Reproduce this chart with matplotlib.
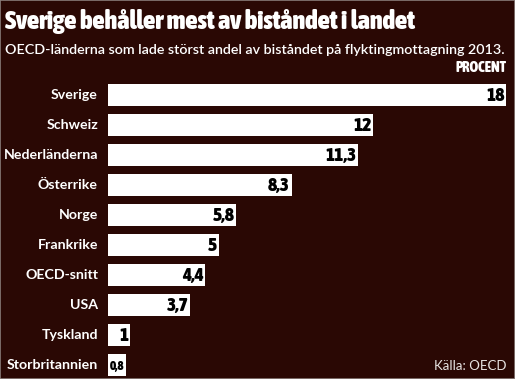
import matplotlib
matplotlib.use("Agg")
import matplotlib.pyplot as plt
from matplotlib import font_manager
from matplotlib.patches import Rectangle

countries = ["Sverige", "Schweiz", "Nederländerna", "Österrike", "Norge",
             "Frankrike", "OECD-snitt", "USA", "Tyskland", "Storbritannien"]
shares = [18, 12, 11.3, 8.3, 5.8, 5, 4.4, 3.7, 1, 0.8]
value_labels = ["18", "12", "11,3", "8,3", "5,8", "5", "4,4", "3,7", "1", "0,8"]

title = "Sverige behåller mest av biståndet i landet"
subtitle = "OECD-länderna som lade störst andel av biståndet på flyktingmottagning 2013."
unit = "PROCENT"
source = "Källa: OECD"

BG = "#2a0804"
SANS = ["Lato", "DejaVu Sans"]


def is_bold(f):
    w = f.weight
    if isinstance(w, str):
        return w in ("bold", "heavy", "black", "extra bold", "semibold", "demibold")
    return w >= 600


# look for a bold condensed face for the headline/number font
narrow_bold = None
for f in font_manager.fontManager.ttflist:
    n = f.name
    if ("Condensed" in n or "Narrow" in n) and is_bold(f) and f.style == "normal":
        narrow_bold = f
        break

if narrow_bold is not None:
    HEAD = dict(fontproperties=font_manager.FontProperties(fname=narrow_bold.fname))
else:
    HEAD = dict(family="DejaVu Sans", fontweight="bold", fontstretch="condensed")

W, H = 515, 379
fig = plt.figure(figsize=(W / 100, H / 100), dpi=100, facecolor=BG)

# axes spans pixel columns 108..506, rows 80..380 (one bar slot = 30 px)
ax = fig.add_axes([108 / W, (H - 380) / H, (506 - 108) / W, 300 / H])
ax.set_facecolor(BG)
y = list(range(len(countries)))
ax.barh(y, shares, height=0.72, color="white", edgecolor="none")
ax.set_xlim(0, 18)
ax.set_ylim(len(countries) - 0.5, -0.5)
ax.axis("off")

px = 18 / (506 - 108)  # data units per pixel
vals = []
for yi, v, lab, name in zip(y, shares, value_labels, countries):
    tv = ax.text(v - 1.5 * px, yi + 0.04, lab, ha="right", va="center",
                 color="black", **HEAD)
    tv.set_fontsize(14)
    vals.append((tv, v))
    ax.text(-10 * px, yi, name, ha="right", va="center", fontsize=10.2,
            fontweight="bold", family=SANS, color="white")


def fx(p):
    return p / W


def fy(p):
    return (H - p) / H


t = fig.text(fx(5), fy(21), title, ha="left", va="center", color="white", **HEAD)
t.set_fontsize(22)
s = fig.text(fx(5), fy(50), subtitle, ha="left", va="center", fontsize=10,
             family=SANS, fontweight="semibold", color="white")
u = fig.text(fx(507), fy(68), unit, ha="right", va="center", color="white", **HEAD)
u.set_fontsize(10.5)
fig.text(fx(506), fy(366), source, ha="right", va="center", fontsize=9.5,
         family=SANS, color="#e8e4e2")

# fit title and subtitle to the widths seen in the reference
fig.canvas.draw()
r = fig.canvas.get_renderer()
for txt, target in [(t, 410), (s, 503)]:
    w = txt.get_window_extent(r).width
    txt.set_fontsize(txt.get_fontsize() * target / w)

# keep value labels inside their bars
for tv, v in vals:
    room = v / px - 3
    w = tv.get_window_extent(r).width
    if w > room:
        tv.set_fontsize(tv.get_fontsize() * room / w)

fig.patches.append(Rectangle((0, 0), 1, 1, transform=fig.transFigure,
                             fill=False, edgecolor="#8a7d7a", linewidth=1.2))

fig.savefig("out.png", dpi=100, facecolor=BG)
